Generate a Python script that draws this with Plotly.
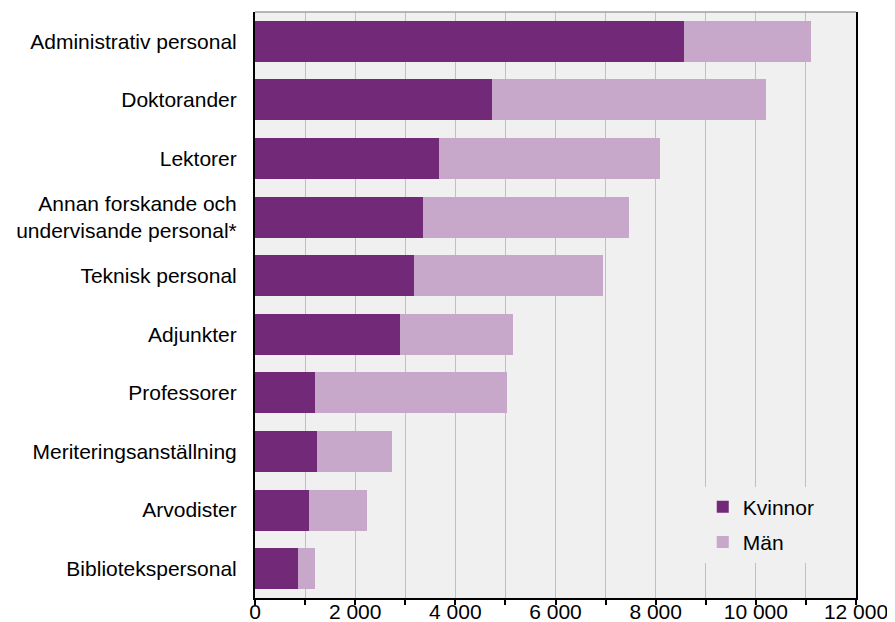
import plotly.graph_objects as go

categories = [
    "Administrativ personal",
    "Doktorander",
    "Lektorer",
    "Annan forskande och<br>undervisande personal*",
    "Teknisk personal",
    "Adjunkter",
    "Professorer",
    "Meriteringsanställning",
    "Arvodister",
    "Bibliotekspersonal",
]
kvinnor = [8560, 4730, 3670, 3350, 3170, 2890, 1200, 1240, 1085, 850]
man = [2550, 5470, 4410, 4120, 3770, 2260, 3830, 1500, 1145, 350]
tick_vals = [0, 2000, 4000, 6000, 8000, 10000, 12000]
tick_text = ["0", "2 000", "4 000", "6 000", "8 000", "10 000", "12 000"]

FONT = "Liberation Sans, Arial, sans-serif"
FS = 21

fig = go.Figure()
fig.add_trace(go.Bar(
    y=categories, x=kvinnor, name="Kvinnor", orientation="h", legendgroup="k",
    marker=dict(color="#722978", line=dict(width=0)),
))
fig.add_trace(go.Bar(
    y=categories, x=man, name="Män", orientation="h", legendgroup="m",
    marker=dict(color="#c7a7ca", line=dict(width=0)),
))

fig.update_layout(
    width=887, height=614,
    barmode="stack", bargap=0.3,
    paper_bgcolor="white", plot_bgcolor="#f0f0f0",
    margin=dict(l=247, r=39, t=4, b=24, autoexpand=False),
    font=dict(family=FONT, size=FS, color="black"),
    showlegend=True,
    legend=dict(
        x=0.745, y=0.19, xanchor="left", yanchor="top",
        bgcolor="#f0f0f0", borderwidth=0, tracegroupgap=5,
        font=dict(family=FONT, size=FS, color="black"),
        traceorder="grouped",
    ),
    xaxis=dict(
        range=[0, 12000], tickvals=tick_vals, ticktext=tick_text,
        showgrid=True, gridcolor="#c0c0c0", gridwidth=1,
        ticks="outside", ticklen=5, tickwidth=1.5, tickcolor="black",
        minor=dict(dtick=1000, tick0=0, showgrid=True, gridcolor="#c0c0c0",
                   ticks="outside", ticklen=5, tickwidth=1.5, tickcolor="black"),
        showline=True, linecolor="black", linewidth=1.5,
        zeroline=False, automargin=False, fixedrange=True,
        ticklabelstandoff=-11,
        tickfont=dict(family=FONT, size=FS),
    ),
    yaxis=dict(
        categoryorder="array", categoryarray=categories, autorange="reversed",
        showline=True, linecolor="black", linewidth=2, mirror=True,
        showgrid=False, ticks="", ticklabelstandoff=12,
        automargin=False, fixedrange=True,
        tickfont=dict(family=FONT, size=FS),
    ),
    shapes=[dict(type="line", xref="paper", yref="paper", x0=0, x1=1, y0=1, y1=1,
                 line=dict(color="#a0a0a0", width=1.5))],
)

fig.write_html("out.html")
